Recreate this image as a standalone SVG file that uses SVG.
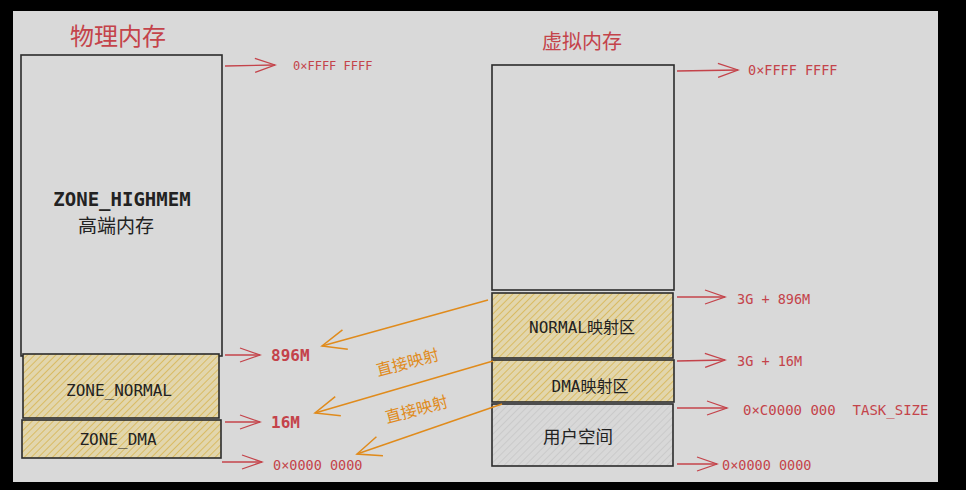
<svg xmlns="http://www.w3.org/2000/svg" width="966" height="490" viewBox="0 0 966 490">
  <defs>
    <style>
      .box { stroke: #2b2b2b; stroke-width: 1.6; }
      .plain { fill: none; }
      .red { fill: #c4434a; font-family: "DejaVu Sans Mono", "Liberation Mono", monospace; }
      .title { fill: #c4434a; font-family: "Noto Sans CJK SC", sans-serif; }
      .label { fill: #222; font-family: "DejaVu Sans Mono", "Noto Sans CJK SC", monospace; text-anchor: middle; }
      .cn { fill: #222; font-family: "Noto Sans CJK SC", sans-serif; text-anchor: middle; }
      .ptr { stroke: #c4434a; stroke-width: 1.3; fill: none; }
      .map { stroke: #e08b1c; stroke-width: 1.5; fill: none; }
      .maplbl { fill: #e08b1c; font-family: "Noto Sans CJK SC", sans-serif; font-size: 16px; text-anchor: middle; }
    </style>
    <pattern id="hatchYellow" patternUnits="userSpaceOnUse" width="5" height="5" patternTransform="rotate(45)">
      <rect width="5" height="5" fill="#e2d6ad"/>
      <line x1="0" y1="0" x2="0" y2="5" stroke="#d8b85a" stroke-width="1.8"/>
    </pattern>
    <pattern id="hatchGray" patternUnits="userSpaceOnUse" width="5" height="5" patternTransform="rotate(45)">
      <rect width="5" height="5" fill="#d8d8d8"/>
      <line x1="0" y1="0" x2="0" y2="5" stroke="#c4c4c4" stroke-width="1.4"/>
    </pattern>
    <marker id="redHead" markerWidth="24" markerHeight="16" refX="22" refY="8" orient="auto" markerUnits="userSpaceOnUse">
      <polyline points="2,1 22,8 2,15" fill="none" stroke="#c4434a" stroke-width="1.3"/>
    </marker>
    <marker id="orangeHead" markerWidth="30" markerHeight="22" refX="28" refY="11" orient="auto" markerUnits="userSpaceOnUse">
      <polyline points="4,1 28,11 4,21" fill="none" stroke="#e08b1c" stroke-width="1.5"/>
    </marker>
  </defs>

  <!-- frame -->
  <rect width="966" height="490" fill="#000"/>
  <rect x="13" y="11" width="925" height="471" fill="#d9d9d9"/>

  <!-- titles -->
  <text class="title" x="70" y="45" font-size="24">物理内存</text>
  <text class="title" x="542" y="49" font-size="20">虚拟内存</text>

  <!-- physical memory column -->
  <g id="phys-highmem">
    <rect class="box plain" x="21" y="55" width="201" height="301"/>
    <text class="label" x="122" y="206" font-size="19" font-weight="bold">ZONE_HIGHMEM</text>
    <text class="cn" x="116" y="233" font-size="19">高端内存</text>
  </g>
  <g id="phys-normal">
    <rect class="box" x="23" y="354" width="196" height="64" fill="url(#hatchYellow)"/>
    <text class="label" x="119" y="396" font-size="16">ZONE_NORMAL</text>
  </g>
  <g id="phys-dma">
    <rect class="box" x="22" y="420" width="199" height="38" fill="url(#hatchYellow)"/>
    <text class="label" x="118" y="445" font-size="16">ZONE_DMA</text>
  </g>

  <!-- virtual memory column -->
  <g id="virt-high">
    <rect class="box plain" x="492" y="65" width="182" height="225"/>
  </g>
  <g id="virt-normal">
    <rect class="box" x="492" y="293" width="181" height="65" fill="url(#hatchYellow)"/>
    <text class="label" x="582" y="333" font-size="16">NORMAL映射区</text>
  </g>
  <g id="virt-dma">
    <rect class="box" x="492" y="360" width="182" height="42" fill="url(#hatchYellow)"/>
    <text class="label" x="590" y="392" font-size="16">DMA映射区</text>
  </g>
  <g id="virt-user">
    <rect class="box" x="492" y="404" width="181" height="62" fill="url(#hatchGray)"/>
    <text class="cn" x="578" y="443" font-size="17.5">用户空间</text>
  </g>

  <!-- address pointers and mapping arrows -->
  <g id="connectors">
    <line class="ptr" x1="225" y1="66" x2="275" y2="65" marker-end="url(#redHead)"/>
    <line class="ptr" x1="225" y1="355" x2="260" y2="355" marker-end="url(#redHead)"/>
    <line class="ptr" x1="225" y1="422" x2="260" y2="422" marker-end="url(#redHead)"/>
    <line class="ptr" x1="222" y1="462" x2="262" y2="462" marker-end="url(#redHead)"/>

    <line class="ptr" x1="677" y1="71" x2="738" y2="70" marker-end="url(#redHead)"/>
    <line class="ptr" x1="677" y1="297" x2="725" y2="297" marker-end="url(#redHead)"/>
    <line class="ptr" x1="677" y1="361" x2="725" y2="360" marker-end="url(#redHead)"/>
    <line class="ptr" x1="677" y1="408" x2="727" y2="408" marker-end="url(#redHead)"/>
    <line class="ptr" x1="677" y1="464" x2="717" y2="464" marker-end="url(#redHead)"/>

    <line class="map" x1="488" y1="300" x2="322" y2="346" marker-end="url(#orangeHead)"/>
    <line class="map" x1="493" y1="361" x2="315" y2="413" marker-end="url(#orangeHead)"/>
    <line class="map" x1="502" y1="404" x2="357" y2="454" marker-end="url(#orangeHead)"/>
  </g>

  <!-- address labels -->
  <text class="red" x="293" y="70" font-size="12">0×FFFF FFFF</text>
  <text class="red" x="271" y="361" font-size="16" font-weight="bold">896M</text>
  <text class="red" x="271" y="428" font-size="16" font-weight="bold">16M</text>
  <text class="red" x="273" y="470" font-size="13.5">0×0000 0000</text>

  <text class="red" x="748" y="75" font-size="13.5">0×FFFF FFFF</text>
  <text class="red" x="737" y="304" font-size="13.5">3G + 896M</text>
  <text class="red" x="737" y="366" font-size="13.5">3G + 16M</text>
  <text class="red" x="743" y="415" font-size="14" xml:space="preserve">0×C0000 000  TASK_SIZE</text>
  <text class="red" x="722" y="470" font-size="13.5">0×0000 0000</text>

  <!-- mapping labels -->
  <text class="maplbl" transform="translate(409 368) rotate(-15)">直接映射</text>
  <text class="maplbl" transform="translate(418 415) rotate(-15)">直接映射</text>
</svg>
